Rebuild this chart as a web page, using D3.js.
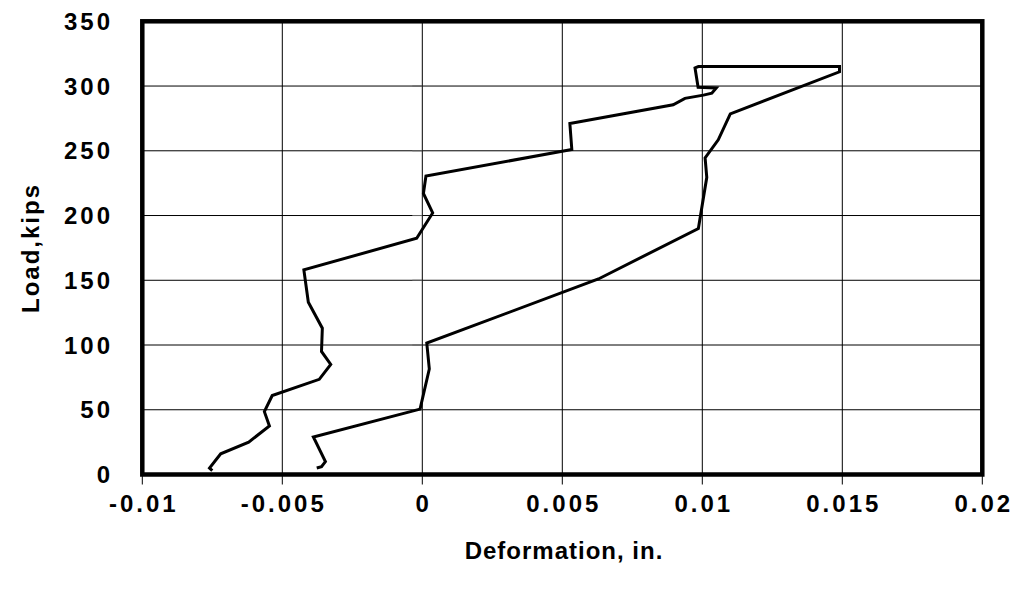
<!DOCTYPE html>
<html>
<head>
<meta charset="utf-8">
<script src="https://cdn.jsdelivr.net/npm/d3@7/dist/d3.min.js"></script>
<style>
  html, body { margin: 0; padding: 0; background: #fff; }
  svg { display: block; }
  text { font-family: "Liberation Sans", Arial, sans-serif; font-weight: bold; fill: #000; }
</style>
</head>
<body>
<svg id="chart" width="1021" height="589"></svg>
<script>
// Data (deformation in inches, load in kips)
const deformation = [
  -0.0075, -0.0076, -0.0072, -0.0062, -0.00546, -0.00564, -0.00536, -0.00368, -0.00327, -0.0036,
  -0.00357, -0.00407, -0.00423, -0.0002, 0.00037, 0.00004, 0.00013, 0.00534, 0.00527, 0.00896,
  0.00938, 0.01004, 0.01034, 0.0105, 0.00985, 0.00974, 0.00986, 0.0149, 0.0149, 0.011,
  0.01057, 0.0101, 0.01016, 0.00986, 0.00629, 0.00016, 0.00025, -0.00008, -0.00389, -0.00346,
  -0.0036, -0.00377
];
const load = [
  3, 5, 16, 25, 37.5, 48.5, 61, 73.5, 85, 95,
  113, 133, 158, 182.5, 202, 217, 230.5, 251, 271, 285.5,
  290.5, 293, 294.5, 298.5, 299, 314, 315, 315, 311, 278.5,
  258.5, 244.5, 229.5, 190, 151, 101.5, 81.5, 50.5, 29, 10,
  6, 5
];
const xTicks = [-0.01, -0.005, 0, 0.005, 0.01, 0.015, 0.02];
const xTickLabels = ["-0.01", "-0.005", "0", "0.005", "0.01", "0.015", "0.02"];
const yTicks = [0, 50, 100, 150, 200, 250, 300, 350];
const xTitle = "Deformation, in.";
const yTitle = "Load,kips";

const svg = d3.select("#chart");
const pLeft = 142.3, pRight = 982.3, pTop = 21.3, pBottom = 474.5;

const x = d3.scaleLinear().domain([-0.01, 0.02]).range([pLeft, pRight]);
const y = d3.scaleLinear().domain([0, 350]).range([pBottom, pTop]);

// Gridlines
const grid = svg.append("g");
grid.selectAll("line.v").data(xTicks).enter().append("line")
  .attr("x1", d => x(d)).attr("x2", d => x(d))
  .attr("y1", pTop).attr("y2", pBottom)
  .attr("stroke", "#000").attr("stroke-width", 1);
grid.selectAll("line.h").data(yTicks).enter().append("line")
  .attr("x1", pLeft).attr("x2", pRight)
  .attr("y1", d => y(d)).attr("y2", d => y(d))
  .attr("stroke", "#000").attr("stroke-width", 1);

// Small ticks on the vertical axis at x = 0
grid.selectAll("line.yt").data(yTicks).enter().append("line")
  .attr("x1", x(0) - 10).attr("x2", x(0))
  .attr("y1", d => y(d)).attr("y2", d => y(d))
  .attr("stroke", "#666").attr("stroke-width", 1);

// Ticks below the bottom frame
grid.selectAll("line.xt").data(xTicks).enter().append("line")
  .attr("x1", d => x(d)).attr("x2", d => x(d))
  .attr("y1", pBottom).attr("y2", pBottom + 10)
  .attr("stroke", "#000").attr("stroke-width", 1);

// Data line
const line = d3.line().x((d, i) => x(deformation[i])).y((d, i) => y(load[i]));
svg.append("path")
  .datum(load)
  .attr("d", line)
  .attr("fill", "none")
  .attr("stroke", "#000")
  .attr("stroke-width", 3)
  .attr("stroke-linejoin", "miter");

// Frame
svg.append("rect")
  .attr("x", pLeft).attr("y", pTop)
  .attr("width", pRight - pLeft).attr("height", pBottom - pTop)
  .attr("fill", "none")
  .attr("stroke", "#000")
  .attr("stroke-width", 4.5);

// Y tick labels
svg.append("g").selectAll("text").data(yTicks).enter().append("text")
  .attr("x", 113)
  .attr("y", d => y(d))
  .attr("dy", "0.36em")
  .attr("text-anchor", "end")
  .attr("font-size", 24)
  .attr("letter-spacing", 3)
  .text(d => d);

// X tick labels
svg.append("g").selectAll("text").data(xTicks).enter().append("text")
  .attr("x", (d, i) => x(d) + 1.5)
  .attr("y", 512)
  .attr("text-anchor", "middle")
  .attr("font-size", 24)
  .attr("letter-spacing", 3)
  .text((d, i) => xTickLabels[i]);

// Axis titles
svg.append("text")
  .attr("x", 564)
  .attr("y", 559)
  .attr("text-anchor", "middle")
  .attr("font-size", 24)
  .attr("letter-spacing", 1)
  .text(xTitle);

svg.append("text")
  .attr("transform", "translate(39,248) rotate(-90)")
  .attr("text-anchor", "middle")
  .attr("font-size", 24)
  .attr("letter-spacing", 2)
  .text(yTitle);
</script>
</body>
</html>
